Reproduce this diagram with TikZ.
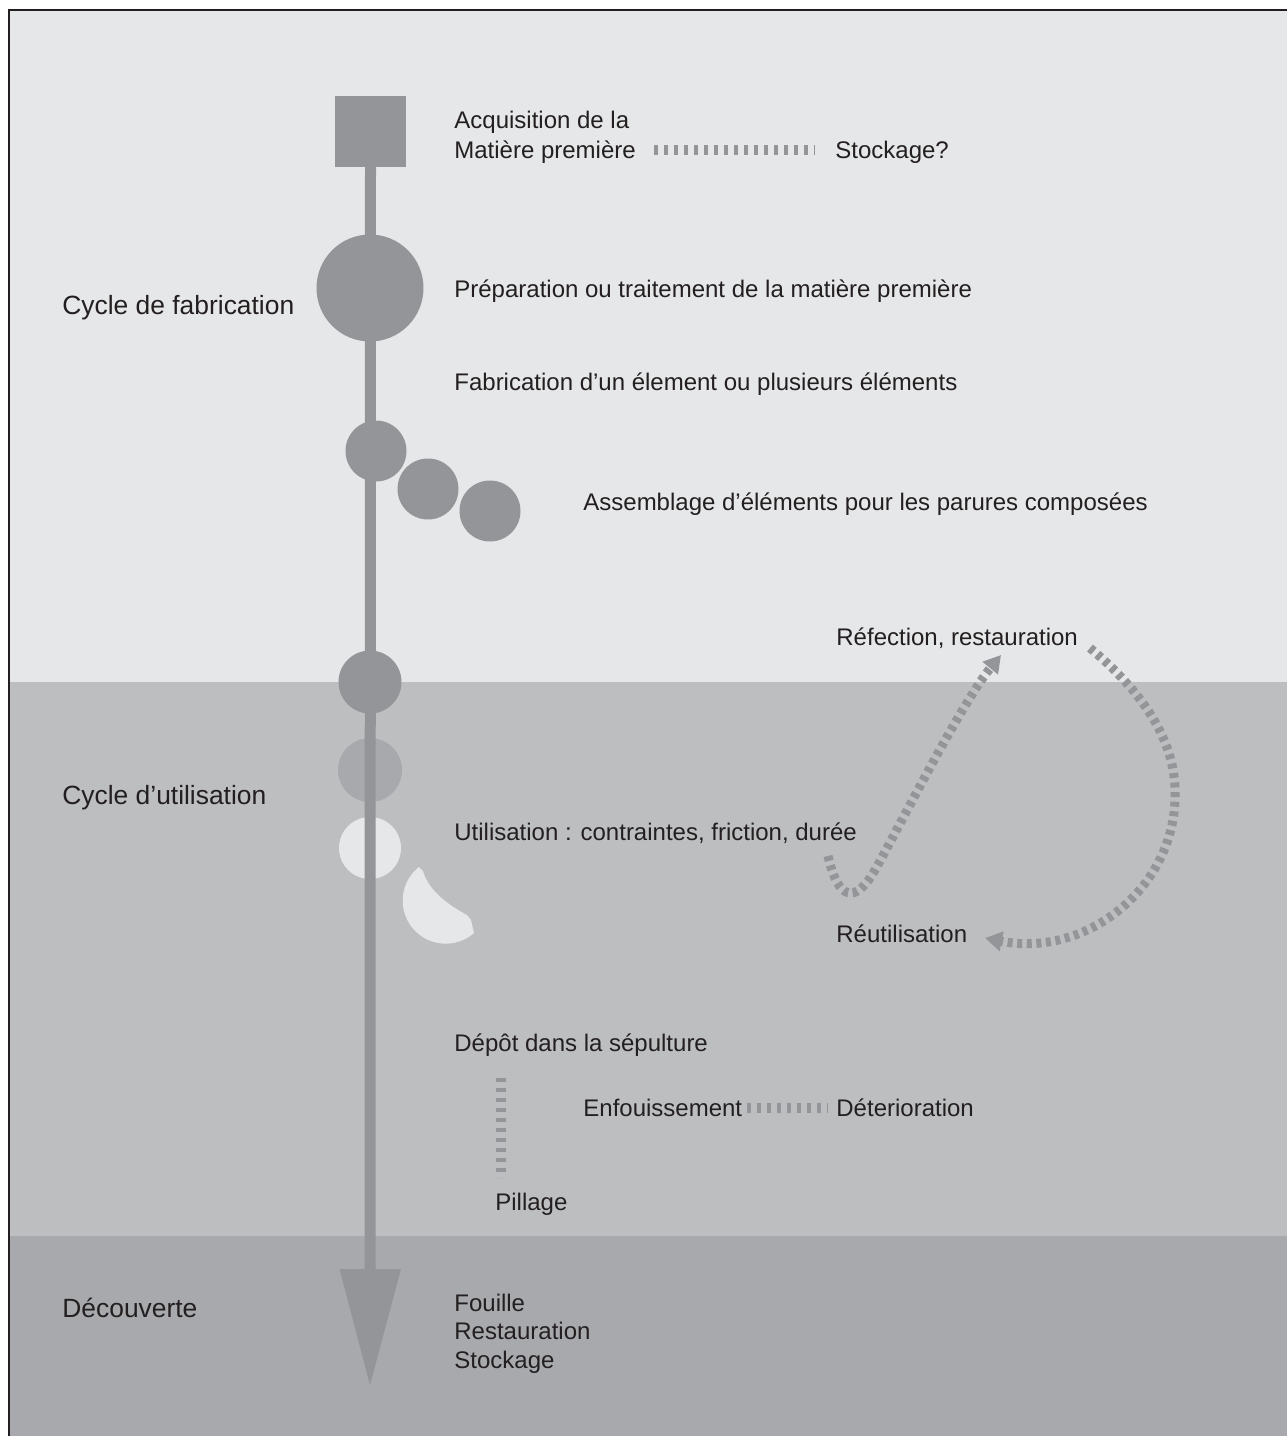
\documentclass[tikz,border=0pt]{standalone}
\usepackage{fontspec}
\setmainfont{Liberation Sans}
\usetikzlibrary{arrows.meta,calc}
\definecolor{bandA}{HTML}{E6E7E8}
\definecolor{bandB}{HTML}{BCBEC0}
\definecolor{bandC}{HTML}{A7A9AC}
\definecolor{shapegray}{HTML}{939598}
\definecolor{ink}{HTML}{231F20}
\begin{document}
\begin{tikzpicture}[x=0.5pt,y=-0.5pt,
  lab/.style={anchor=base west, inner sep=0pt, text=ink, font=\fontsize{12}{14}\selectfont},
  biglab/.style={anchor=base west, inner sep=0pt, text=ink, font=\fontsize{13.2}{15}\selectfont},
  disc/.style={circle, fill=shapegray, inner sep=0pt, minimum size=#1},
  dashstraight/.style={draw=shapegray, line width=5pt, dash pattern=on 2pt off 3pt},
  dashcurve/.style={draw=shapegray, line width=4.5pt, dash pattern=on 2.5pt off 2.3pt, -{Triangle[width=9.5pt,length=8.5pt]}},
]
\useasboundingbox (0,0) rectangle (1287,1436);
\fill[white] (0,0) rectangle (1287,1436);
\fill[bandA] (9,10) rectangle (1287,682);
\fill[bandB] (9,682) rectangle (1287,1236);
\fill[bandC] (9,1236) rectangle (1287,1436);
\draw[ink, line width=1pt] (9,1436) -- (9,10) -- (1287,10);

% shapes on the time line
\node[rectangle, fill=shapegray, minimum size=35.5pt, inner sep=0pt] (sq) at (370.5,131) {};
\node[disc=53.5pt] (c1) at (370,288) {};
\node[disc=30.5pt] (c2) at (376,451) {};
\node[disc=30.5pt] (c3) at (428,489) {};
\node[disc=30.5pt] (c4) at (490,511) {};
\node[disc=31.5pt] (c5) at (370,682) {};
\node[disc=32pt, fill=bandC] (c6) at (370,770) {};
\node[disc=31pt, fill=bandA] (c7) at (370,848) {};
% broken piece
\fill[bandA] (419,867) -- (423,871) .. controls (428,890) and (448,905) .. (467,915)
  -- (471,920) -- (474,933) arc[start angle=48.8, end angle=231.5, radius=43] -- cycle;

\coordinate (hd) at (370,1270);
\coordinate (tip) at (370,1385);
\draw[shapegray, line width=5.5pt] (sq.south) -- (hd);
\fill[shapegray] (339.5,1269) -- (401,1269) -- (tip) -- cycle;

% texts
\node[lab] (acq) at (454,128) {Acquisition de la};
\node[lab] (mp) at (454,158) {Matière première};
\node[lab] (stk) at (835,158) {Stockage?};
\draw[dashstraight] ($(mp.base east)+(18,-8)$) -- ($(stk.base west)+(-20,-8)$);

\node[biglab] (cf) at (62,314) {Cycle de fabrication};
\node[lab] (prep) at (454,297) {Préparation ou traitement de la matière première};
\node[lab] (fab) at (454,390) {Fabrication d’un élement ou plusieurs éléments};
\node[lab] (ass) at (583,510) {Assemblage d’éléments pour les parures composées};
\node[lab] (ref) at (836,645) {Réfection, restauration};
\node[biglab] (cu) at (62,804) {Cycle d’utilisation};
\node[lab] (uti) at (454,840) {Utilisation : contraintes, friction, durée};
\node[lab] (reu) at (836,942) {Réutilisation};
\node[lab] (dep) at (454,1051) {Dépôt dans la sépulture};
\node[lab] (enf) at (583,1116) {Enfouissement};
\node[lab] (det) at (836,1116) {Déterioration};
\node[lab] (pil) at (495,1210) {Pillage};
\node[biglab] (dec) at (62,1317) {Découverte};
\node[lab] (fou) at (454,1311) {Fouille};
\node[lab] (res) at (454,1339) {Restauration};
\node[lab] (sto) at (454,1368) {Stockage};

\draw[dashstraight] ($(enf.base east)+(4,-8)$) -- ($(det.base west)+(-8,-8)$);
\coordinate (pt) at (501,1078);
\coordinate (pb) at (501,1178);
\draw[dashstraight] (pt) -- (pb);

% reuse cycle
\coordinate (s0) at (828,856);
\coordinate (s1) at (1001,655);
\draw[dashcurve] (s0) .. controls (838,900) and (855,905) .. (875,870)
  .. controls (895,835) and (960,705) .. (s1);
\coordinate (r0) at (1090,648);
\coordinate (r1) at (985,938);
\draw[dashcurve] (r0) .. controls (1140,690) and (1178,740) .. (1175,800)
  .. controls (1172,890) and (1085,958) .. (r1);
\end{tikzpicture}
\end{document}
